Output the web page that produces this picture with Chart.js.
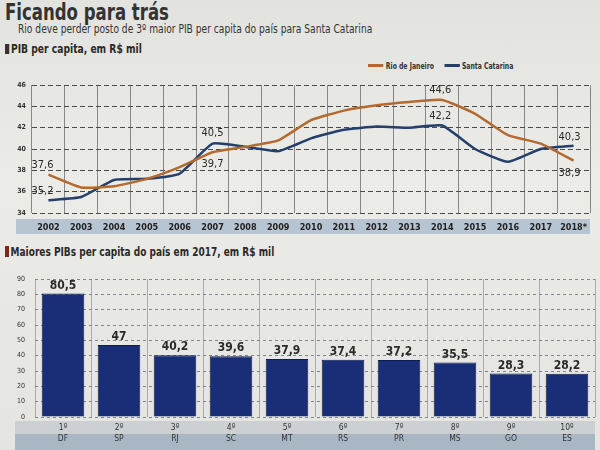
<!DOCTYPE html>
<html>
<head>
<meta charset="utf-8">
<script src="https://cdn.jsdelivr.net/npm/chart.js@4/dist/chart.umd.min.js"></script>
<style>
  body { margin: 0; width: 600px; height: 450px; overflow: hidden;
         background: linear-gradient(180deg, #e2e2de 0%, #ebebe7 40%, #e4e4e0 100%);
         font-family: 'DejaVu Sans Condensed', 'Liberation Sans', sans-serif; color: #2b2b2b; }
  .abs { position: absolute; transform-origin: left top; white-space: nowrap; }
  #title { left: 5px; top: -1px; font-size: 23px; font-weight: 900; color: #333; transform: scaleX(0.8); }
  #subtitle { left: 18px; top: 21px; font-size: 13px; color: #333; transform: scaleX(0.78); }
  .head { font-size: 12px; font-weight: bold; color: #2a2a2a; }
  .mark { display: inline-block; width: 5px; height: 10px; margin-right: 2px; vertical-align: -1px; }
  #legend { left: 368px; top: 62px; font-size: 8px; font-weight: bold; color: #333; transform: scaleX(0.85); }
  #legend span.l { display: inline-block; width: 18px; height: 3px; vertical-align: 2px; margin: 0 3px 0 0; }
</style>
</head>
<body>
<div id="title" class="abs">Ficando para trás</div>
<div id="subtitle" class="abs">Rio deve perder posto de 3º maior PIB per capita do país para Santa Catarina</div>
<div class="abs head" style="left:5px; top:42px; transform:scaleX(0.85);"><span class="mark" style="background:#3a3030"></span>PIB per capita, em R$ mil</div>
<div id="legend" class="abs"><span class="l" style="background:#b4692f"></span>Rio de Janeiro<span class="l" style="background:#243f6b; margin-left:12px;"></span>Santa Catarina</div>
<div class="abs head" style="left:5px; top:244px; font-size:12.5px; transform:scaleX(0.8);"><span class="mark" style="background:#8a2222; height:11px;"></span>Maiores PIBs per capita do país em 2017, em R$ mil</div>

<div class="abs" style="left:0; top:58px; width:600px; height:176px;"><canvas id="line"></canvas></div>
<div class="abs" style="left:0; top:262px; width:600px; height:188px;"><canvas id="bar"></canvas></div>

<script>
const years = ['2002', '2003', '2004', '2005', '2006', '2007', '2008', '2009', '2010',
               '2011', '2012', '2013', '2014', '2015', '2016', '2017', '2018*'];
const rio = [37.6, 36.4, 36.5, 37.2, 38.3, 39.7, 40.2, 40.8, 42.7, 43.6, 44.1, 44.4, 44.6, 43.3, 41.3, 40.5, 38.9];
const sc  = [35.2, 35.5, 37.1, 37.2, 37.7, 40.5, 40.2, 39.8, 41.0, 41.8, 42.1, 42.0, 42.2, 40.0, 38.8, 40.0, 40.3];
const lineTicks = [34, 36, 38, 40, 42, 44, 46];

const ranks = ['1º', '2º', '3º', '4º', '5º', '6º', '7º', '8º', '9º', '10º'];
const states = ['DF', 'SP', 'RJ', 'SC', 'MT', 'RS', 'PR', 'MS', 'GO', 'ES'];
const pib2017 = [80.5, 47, 40.2, 39.6, 37.9, 37.4, 37.2, 35.5, 28.3, 28.2];

const font = "'DejaVu Sans Condensed', 'Liberation Sans', sans-serif";
const fmt = v => String(v).replace('.', ',');

// which points get a value label, and where it sits
const lineLabels = [
  { ds: 0, i: 0, dx: -6, dy: -9 },
  { ds: 1, i: 0, dx: -6, dy: -9 },
  { ds: 1, i: 5, dx: 0, dy: -11 },
  { ds: 0, i: 5, dx: 0, dy: 12 },
  { ds: 0, i: 12, dx: -2, dy: -10 },
  { ds: 1, i: 12, dx: -2, dy: -9 },
  { ds: 1, i: 16, dx: -4, dy: -9 },
  { ds: 0, i: 16, dx: -4, dy: 12 },
];

const lineExtras = {
  id: 'lineExtras',
  beforeDraw(chart) {
    const { ctx, chartArea } = chart;
    ctx.save();
    ctx.fillStyle = '#b7c4d1';
    ctx.fillRect(chartArea.left - 16, chartArea.bottom + 6, chartArea.right - chartArea.left + 16, 15);
    ctx.restore();
  },
  afterDatasetsDraw(chart) {
    const { ctx } = chart;
    ctx.save();
    ctx.font = '11px ' + font;
    ctx.fillStyle = '#2a2a2a';
    ctx.textAlign = 'center';
    ctx.textBaseline = 'middle';
    for (const l of lineLabels) {
      const p = chart.getDatasetMeta(l.ds).data[l.i];
      const v = chart.data.datasets[l.ds].data[l.i];
      ctx.fillText(fmt(v), p.x + l.dx, p.y + l.dy);
    }
    ctx.restore();
  }
};

new Chart(document.getElementById('line'), {
  type: 'line',
  data: {
    labels: years,
    datasets: [{
      label: 'Rio de Janeiro', data: rio,
      borderColor: '#b4692f', borderWidth: 2.5, pointRadius: 0, tension: 0.15,
    }, {
      label: 'Santa Catarina', data: sc,
      borderColor: '#243f6b', borderWidth: 2.5, pointRadius: 0, tension: 0.15,
    }]
  },
  options: {
    responsive: true, maintainAspectRatio: false, animation: false,
    layout: { padding: { top: 27, right: 10, left: 0, bottom: 0 } },
    plugins: { legend: { display: false }, tooltip: { enabled: false } },
    scales: {
      x: {
        offset: true,
        grid: { offset: true, color: '#85868a', lineWidth: 1, drawTicks: false },
        border: { display: false },
        ticks: { color: '#222', font: { family: font, size: 9, weight: 'bold' }, padding: 9, maxRotation: 0, autoSkip: false },
        afterFit(s) { s.height = 21; }
      },
      y: {
        min: 34, max: 46,
        afterBuildTicks(s) { s.ticks = lineTicks.map(v => ({ value: v })); },
        grid: { color: '#4a4a4a', lineWidth: 1, drawTicks: false, borderDash: [5, 3] },
        border: { display: true, width: 0, dash: [5, 3] },
        ticks: { color: '#333', font: { family: font, size: 7, weight: 'bold' }, padding: 6 },
        afterFit(s) { s.width = 32; }
      }
    }
  },
  plugins: [lineExtras]
});

const barExtras = {
  id: 'barExtras',
  beforeDraw(chart) {
    const { ctx, chartArea } = chart;
    ctx.save();
    ctx.fillStyle = '#cdd0d2';
    ctx.fillRect(chartArea.left - 20, chartArea.bottom + 4, chartArea.right - chartArea.left + 20, 13);
    ctx.fillStyle = '#a9b6c3';
    ctx.fillRect(chartArea.left - 20, chartArea.bottom + 17, chartArea.right - chartArea.left + 20, 16);
    ctx.restore();
  },
  afterDatasetsDraw(chart) {
    const { ctx } = chart;
    ctx.save();
    ctx.font = 'bold 12px ' + font;
    ctx.fillStyle = '#2a2a2a';
    ctx.textAlign = 'center';
    ctx.textBaseline = 'bottom';
    chart.getDatasetMeta(0).data.forEach((b, i) => {
      ctx.fillText(fmt(chart.data.datasets[0].data[i]), b.x, b.y - 2);
    });
    ctx.restore();
  }
};

new Chart(document.getElementById('bar'), {
  type: 'bar',
  data: {
    labels: ranks.map((r, i) => [r, states[i]]),
    datasets: [{
      data: pib2017,
      backgroundColor: '#1a2e78', borderColor: '#0e1c50', borderWidth: 1,
      categoryPercentage: 1, barPercentage: 0.76,
    }]
  },
  options: {
    responsive: true, maintainAspectRatio: false, animation: false,
    layout: { padding: { top: 17, right: 5, left: 0, bottom: 0 } },
    plugins: { legend: { display: false }, tooltip: { enabled: false } },
    scales: {
      x: {
        grid: { offset: true, color: '#a9abb0', lineWidth: 1, drawTicks: false },
        border: { display: false },
        ticks: { color: '#333', font: { family: font, size: 8.5 }, padding: 6, maxRotation: 0, autoSkip: false },
        afterFit(s) { s.height = 33; }
      },
      y: {
        min: 0, max: 90,
        ticks: { stepSize: 10, color: '#333', font: { family: font, size: 7 }, padding: 10 },
        grid: { color: '#80838c', lineWidth: 1, drawTicks: false, borderDash: [3, 3] },
        border: { display: true, width: 0, dash: [3, 3] },
        afterFit(s) { s.width = 35; }
      }
    }
  },
  plugins: [barExtras]
});
</script>
</body>
</html>
